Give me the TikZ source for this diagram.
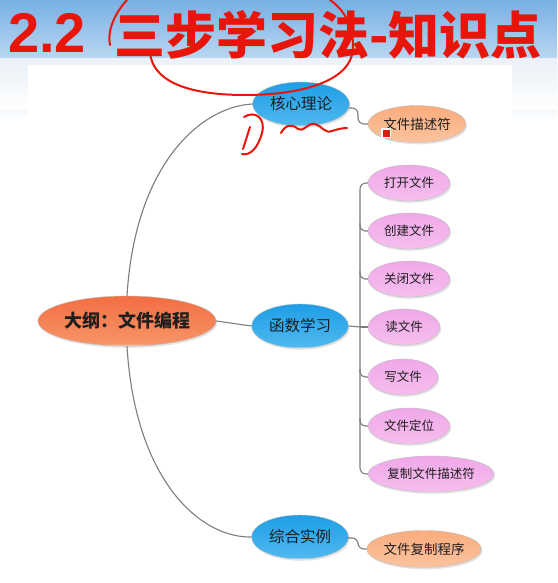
\documentclass[tikz,border=0pt]{standalone}
\usepackage{fontspec}
\setmainfont{Liberation Sans}
\newfontfamily\cjk{Noto Sans CJK SC}
\usetikzlibrary{shapes.geometric,shadows,calc}
\definecolor{sky}{RGB}{120,176,228}
\definecolor{skylight}{RGB}{236,242,248}
\definecolor{conn}{RGB}{125,125,125}
\definecolor{pen}{RGB}{232,22,10}
\definecolor{ink}{RGB}{30,30,30}
\definecolor{bluetop}{RGB}{30,158,230}
\definecolor{bluemid}{RGB}{8,140,222}
\definecolor{bluebot}{RGB}{80,185,240}
\definecolor{redtop}{RGB}{242,110,65}
\definecolor{redmid}{RGB}{236,90,45}
\definecolor{redbot}{RGB}{247,150,105}
\definecolor{pinktop}{RGB}{240,168,232}
\definecolor{pinkmid}{RGB}{232,138,222}
\definecolor{pinkbot}{RGB}{245,190,238}
\definecolor{orgtop}{RGB}{250,172,125}
\definecolor{orgmid}{RGB}{247,148,90}
\definecolor{orgbot}{RGB}{251,195,158}
\tikzset{
  bubble/.style={ellipse, inner sep=0pt, text=ink, draw=black!25, line width=0.4pt,
    drop shadow={opacity=0.22, shadow xshift=1.2pt, shadow yshift=-1.8pt},
    path picture={\fill[white,opacity=0.35] ($(path picture bounding box.south)+(0,3)$) ellipse [x radius=0.33*\pgfkeysvalueof{/pgf/minimum width}, y radius=0.09*\pgfkeysvalueof{/pgf/minimum height}];}},
  rootbox/.style={bubble, top color=redtop, middle color=redmid, bottom color=redbot,
    minimum width=175pt, minimum height=50pt, font=\cjk\bfseries\fontsize{18}{20}\selectfont},
  topicbox/.style={bubble, top color=bluetop, middle color=bluemid, bottom color=bluebot,
    minimum width=97pt, minimum height=44pt, font=\cjk\fontsize{15.5}{18}\selectfont},
  pinkbox/.style={bubble, top color=pinktop, middle color=pinkmid, bottom color=pinkbot,
    minimum height=36pt, font=\cjk\fontsize{12.5}{15}\selectfont},
  orgbox/.style={bubble, top color=orgtop, middle color=orgmid, bottom color=orgbot,
    minimum height=37pt, font=\cjk\fontsize{13.5}{16}\selectfont},
  link/.style={draw=conn, line width=1.1pt},
  penline/.style={draw=pen, line width=2pt, line cap=round, line join=round},
}
\begin{document}
\begin{tikzpicture}[x=1pt,y=-1pt]
\useasboundingbox (0,0) rectangle (557,583);
% background
\fill[white] (0,0) rectangle (557,583);
\shade[top color=sky, bottom color=white] (0,0) rectangle (557,120);
\fill[skylight] (0,58) rectangle (557,66);
\shade[top color=skylight, bottom color=white] (0,66) rectangle (557,110);
\fill[white] (28,65) rectangle (512,583);

% title
\node[anchor=west, text=pen, font=\bfseries\fontsize{56}{56}\selectfont, inner sep=0pt] (t1) at (8,33) {2.2};
\node[anchor=west, text=pen, font=\cjk\bfseries\fontsize{51}{54}\selectfont, inner sep=0pt] (t2) at (114,35) {三步学习法-知识点};

% nodes
\node[rootbox] (root) at (127,321) {大纲：文件编程};
\node[topicbox] (core) at (301,104) {核心理论};
\node[topicbox] (func) at (300,326) {函数学习};
\node[topicbox] (comp) at (300,537) {综合实例};
\node[orgbox, minimum width=98pt] (desc) at (417,124) {文件描述符};
\node[orgbox, minimum width=112pt] (prog) at (424,549) {文件复制程序};
\node[pinkbox, minimum width=82pt] (c1) at (409,183) {打开文件};
\node[pinkbox, minimum width=82pt] (c2) at (409,231) {创建文件};
\node[pinkbox, minimum width=82pt] (c3) at (409,279) {关闭文件};
\node[pinkbox, minimum width=72pt] (c4) at (404,327) {读文件};
\node[pinkbox, minimum width=70pt] (c5) at (403,377) {写文件};
\node[pinkbox, minimum width=82pt] (c6) at (409,426) {文件定位};
\node[pinkbox, minimum width=126pt] (c7) at (431,474) {复制文件描述符};

% connectors
\coordinate (sp) at (360,327);
\draw[link] (root.north) .. controls (135,165) and (200,107) .. (core.west);
\draw[link] (root.south) .. controls (135,480) and (200,538) .. (comp.west);
\draw[link] (root.east) -- (func.west);
\draw[link, rounded corners=6pt] ($(core.east)+(-1,4)$) -- (358,108) |- (desc.west);
\draw[link, rounded corners=6pt] ($(comp.east)+(-1,1)$) -- (358,538) |- (prog.west);
\draw[link] (func.east) -- (sp);
\draw[link, rounded corners=6pt] (c1.west) -| (sp) |- (c7.west);
\draw[link, rounded corners=5pt] ($(sp|-c2.west)+(0,-8)$) |- (c2.west);
\draw[link, rounded corners=5pt] ($(sp|-c3.west)+(0,-8)$) |- (c3.west);
\draw[link] (sp) -- (c4.west);
\draw[link, rounded corners=5pt] ($(sp|-c5.west)+(0,-8)$) |- (c5.west);
\draw[link, rounded corners=5pt] ($(sp|-c6.west)+(0,-8)$) |- (c6.west);

% pen annotations
\draw[penline] (127,0) .. controls (114,14) and (107,32) .. (110,45);
\draw[penline] (150,52) .. controls (152,80) and (185,95) .. (245,95)
  .. controls (300,95) and (345,82) .. (352,55) .. controls (356,35) and (348,12) .. (330,0);
\draw[penline] (281,133) .. controls (286,124) and (292,124) .. (298,129)
  .. controls (303,133) and (308,122) .. (315,124) .. controls (322,126) and (325,134) .. (332,131)
  .. controls (338,129) and (343,128) .. (347,128);
\draw[penline] (250,127) -- (243,149);
\draw[penline] (244,117) .. controls (255,110) and (266,118) .. (262,133)
  .. controls (258,148) and (250,156) .. (242,154);
\fill[white] (381,128) rectangle (391,138);
\fill[pen] (382.5,129.5) rectangle (389.5,136.5);
\end{tikzpicture}
\end{document}
